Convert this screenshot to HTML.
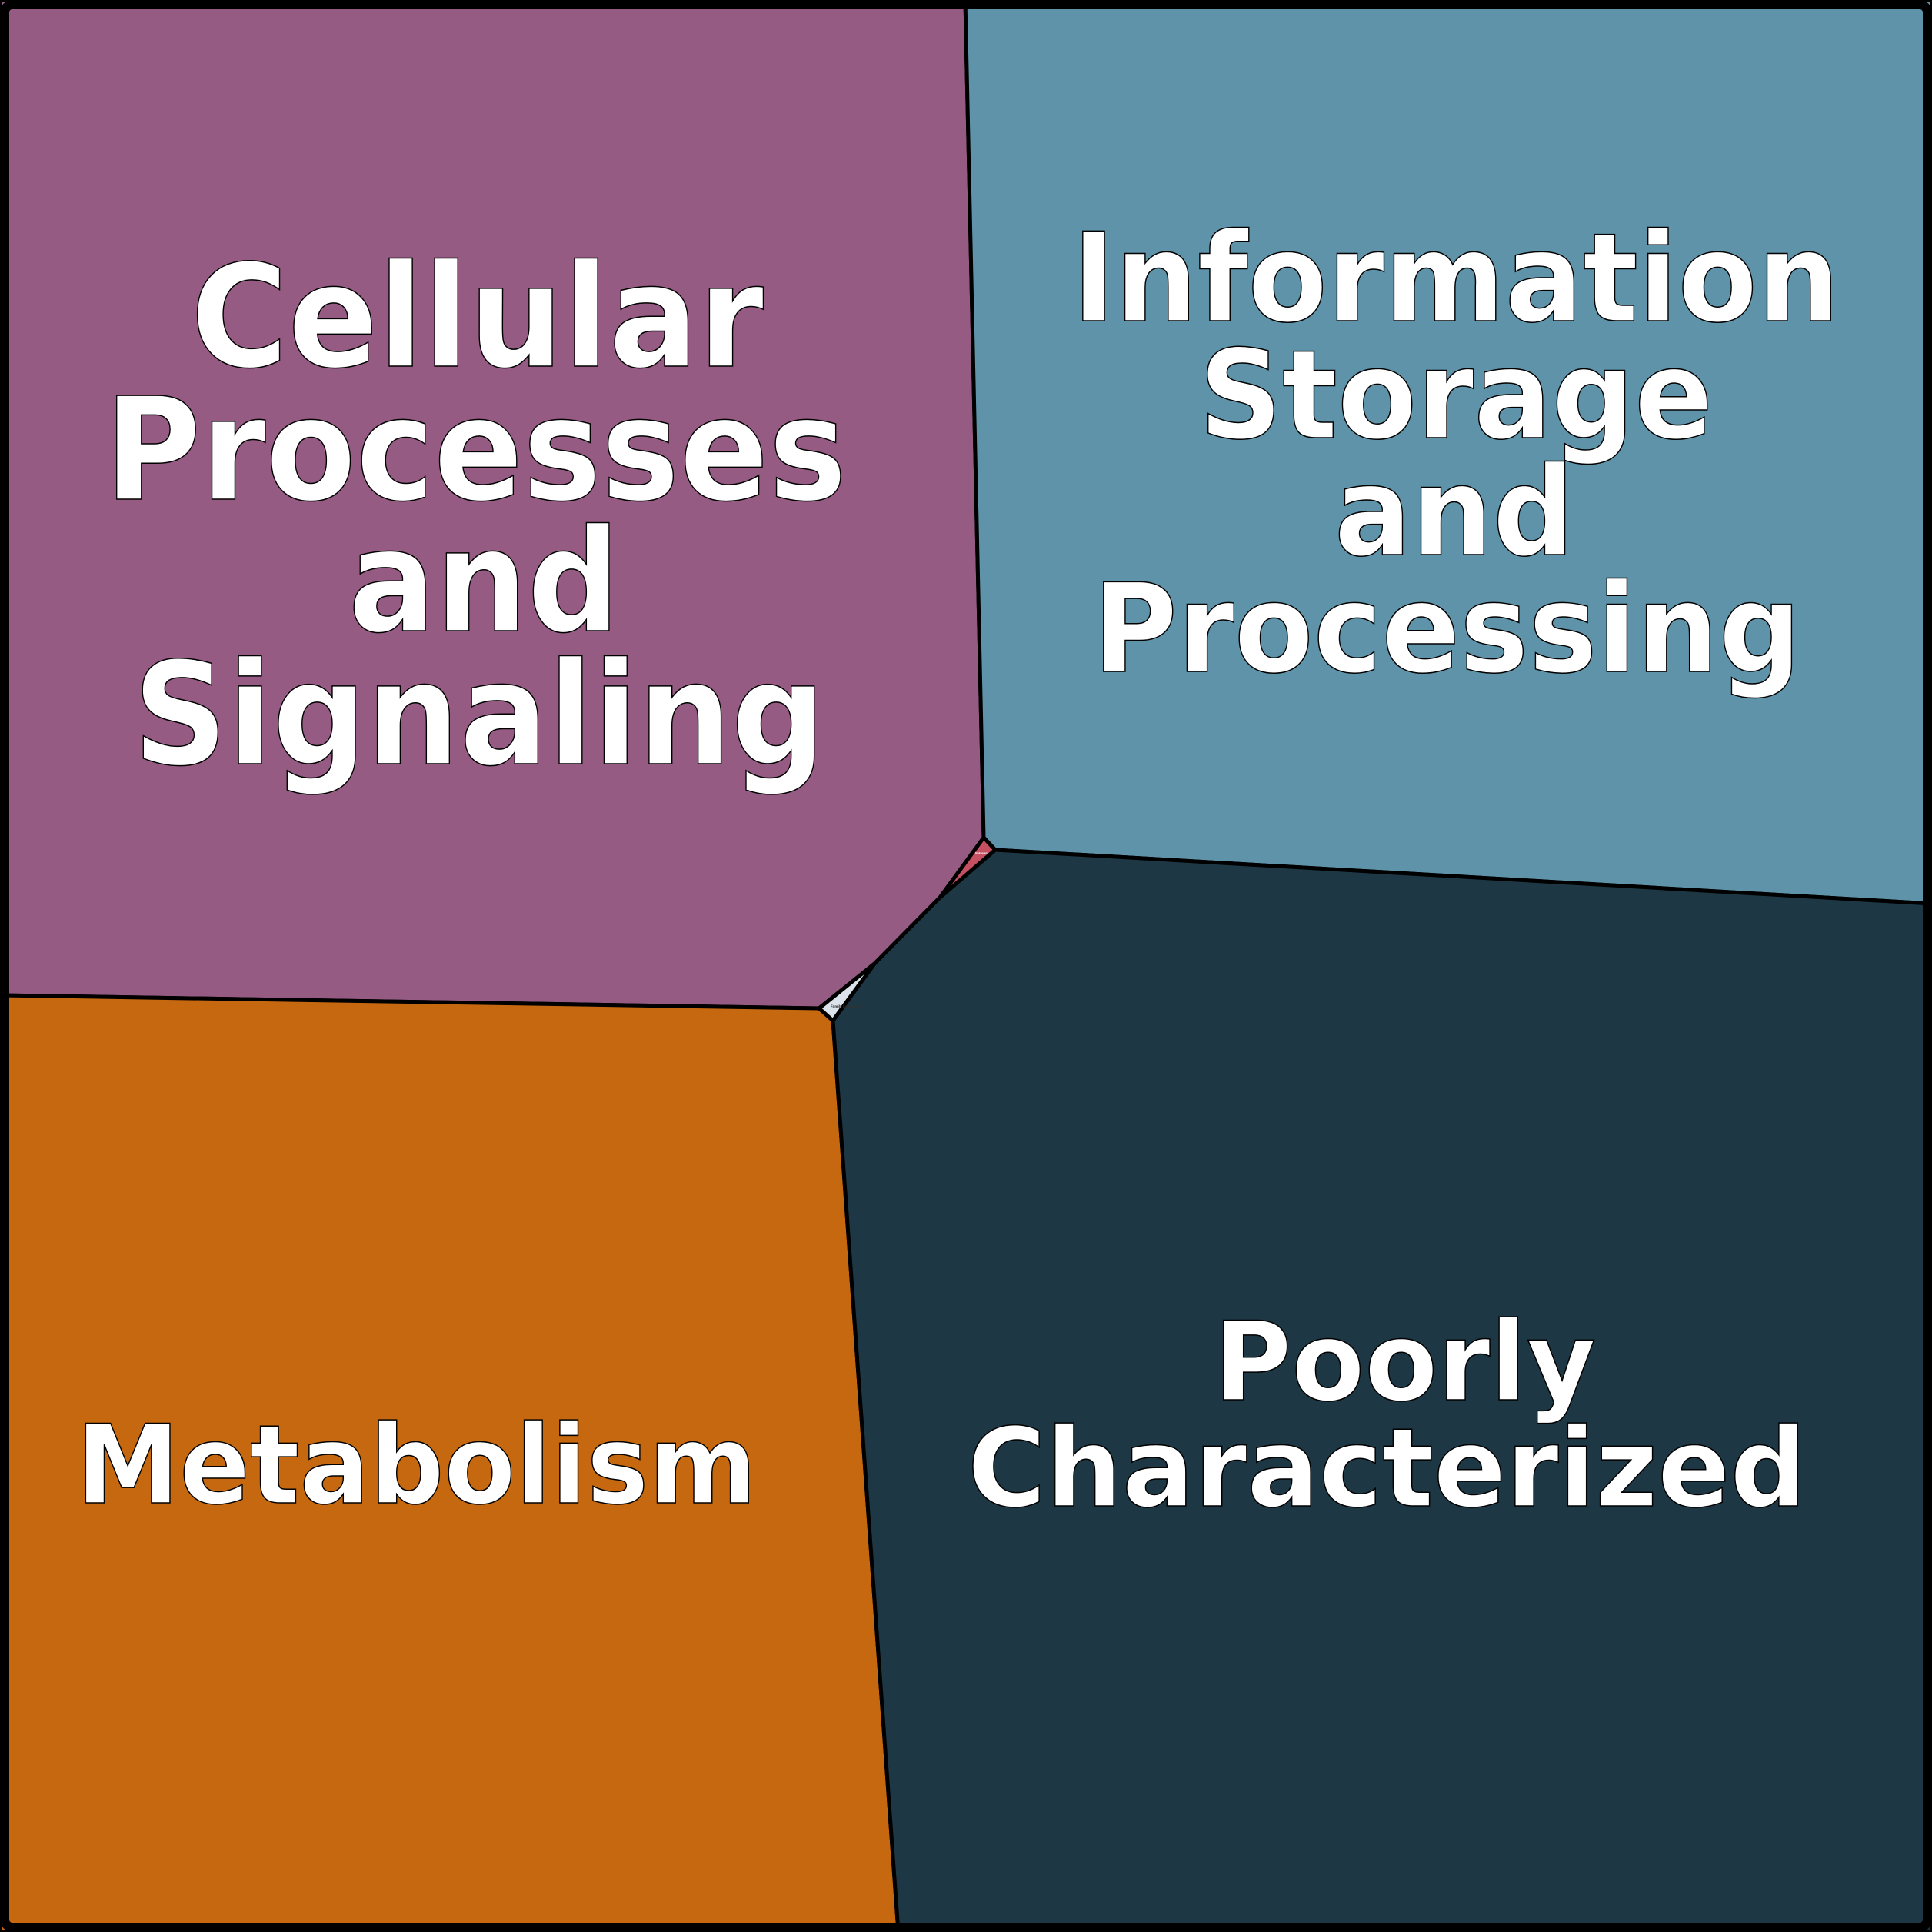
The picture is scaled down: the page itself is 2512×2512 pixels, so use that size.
<!DOCTYPE html>
<html><head><meta charset="utf-8"><style>
html,body{margin:0;padding:0;background:#fff}
svg{display:block}
text{font-family:"DejaVu Sans","Liberation Sans",sans-serif;font-weight:bold;fill:#fff;stroke:#000;stroke-width:1.5}
</style></head><body>
<svg width="2512" height="2512" viewBox="0 0 2512 2512" xmlns="http://www.w3.org/2000/svg">
<g stroke="#000" stroke-width="5" stroke-linejoin="round">
<polygon points="0,0 1255,0 1279,1089 1222,1167 1137,1253 1065,1311 0,1294" fill="#955B83"/>
<polygon points="1255,0 2512,0 2512,1175 1294,1105 1279,1089" fill="#5E93A9"/>
<polygon points="0,1294 1065,1311 1083,1327 1168,2512 0,2512" fill="#C5680F"/>
<polygon points="1294,1105 2512,1175 2512,2512 1168,2512 1083,1327 1137,1253 1222,1167" fill="#1D3744"/>
<polygon points="1279,1089 1294,1105 1222,1167" fill="#C55062"/>
<polygon points="1137,1253 1083,1327 1065,1311" fill="#DCE3EA"/>
</g>
<rect x="6" y="6" width="2500" height="2500" rx="10" fill="none" stroke="#000" stroke-width="12"/>
<text x="248" y="476" font-size="185" textLength="745" lengthAdjust="spacingAndGlyphs">Cellular</text>
<text x="136" y="649" font-size="185" textLength="965" lengthAdjust="spacingAndGlyphs">Processes</text>
<text x="453" y="820" font-size="185" textLength="353" lengthAdjust="spacingAndGlyphs">and</text>
<text x="173" y="993" font-size="185" textLength="900" lengthAdjust="spacingAndGlyphs">Signaling</text>
<text x="1394" y="417" font-size="160" textLength="998" lengthAdjust="spacingAndGlyphs">Information</text>
<text x="1559" y="569" font-size="160" textLength="668" lengthAdjust="spacingAndGlyphs">Storage</text>
<text x="1735" y="721" font-size="160" textLength="312" lengthAdjust="spacingAndGlyphs">and</text>
<text x="1421" y="873" font-size="160" textLength="921" lengthAdjust="spacingAndGlyphs">Processing</text>
<text x="1578" y="1820" font-size="142" textLength="497" lengthAdjust="spacingAndGlyphs">Poorly</text>
<text x="1258" y="1958" font-size="142" textLength="1091" lengthAdjust="spacingAndGlyphs">Characterized</text>
<text x="99" y="1954" font-size="142" textLength="885" lengthAdjust="spacingAndGlyphs">Metabolism</text>
<text x="1080" y="1310" font-size="4" style="fill:#333;stroke:none">Family Expansion</text>
<text x="1268" y="1110" font-size="3" style="fill:#fff;stroke:none">Unknown</text>
</svg>
</body></html>
